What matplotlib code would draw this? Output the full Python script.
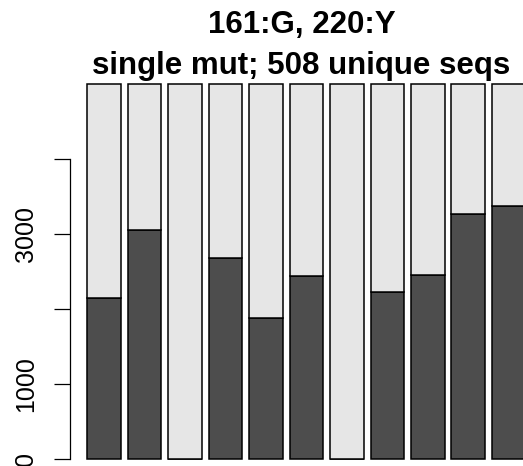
import numpy as np
import matplotlib.pyplot as plt

plt.rcParams['font.family'] = ['Liberation Sans', 'DejaVu Sans']

# bar values (bottom dark part, top light part)
dark_vals = [2143, 3053, 0, 2680, 1884, 2440, 0, 2227, 2453, 3271, 3373]
light_vals = [2857, 1947, 5000, 2320, 3116, 2560, 5000, 2773, 2547, 1729, 1627]
ytick_vals = [0, 1000, 2000, 3000, 4000]
ytick_labels = ['0', '1000', '', '3000', '']
title_lines = ['161:G, 220:Y', 'single mut; 508 unique seqs']

W, H = 523, 466
fig = plt.figure(figsize=(W / 100, H / 100), dpi=100)

# plot region (partly outside the picture, as in the cropped original)
x0, x1 = 80.25, 523
ytop, ybot = 69, 474
ax = fig.add_axes([x0 / W, (H - ybot) / H, (x1 - x0) / W, (ybot - ytop) / H])

n = len(dark_vals)
lefts = 0.2 + 1.2 * np.arange(n)
ax.bar(lefts, dark_vals, width=1, align='edge', color='#4d4d4d',
       edgecolor='black', linewidth=1.1)
ax.bar(lefts, light_vals, width=1, bottom=dark_vals, align='edge',
       color='#e6e6e6', edgecolor='black', linewidth=1.1)

ax.set_xlim(0, (x1 - x0) / 33.75)
ax.set_ylim(-200, 5200)

for s in ['top', 'right', 'bottom']:
    ax.spines[s].set_visible(False)
ax.spines['left'].set_position(('outward', 7.7))
ax.spines['left'].set_bounds(0, 4000)
ax.spines['left'].set_linewidth(0.9)
ax.set_xticks([])
ax.set_yticks(ytick_vals)
ax.set_yticklabels(ytick_labels, rotation=90, va='center', fontsize=18)
ax.tick_params(axis='y', length=11.5, width=0.9, pad=11)

fig.text(301.5 / W, (H - 33.5) / H, title_lines[0], ha='center', va='baseline',
         fontsize=22.5, fontweight='bold')
fig.text(301.5 / W, (H - 74) / H, title_lines[1], ha='center', va='baseline',
         fontsize=22.5, fontweight='bold')

fig.savefig('out.png', dpi=100)
